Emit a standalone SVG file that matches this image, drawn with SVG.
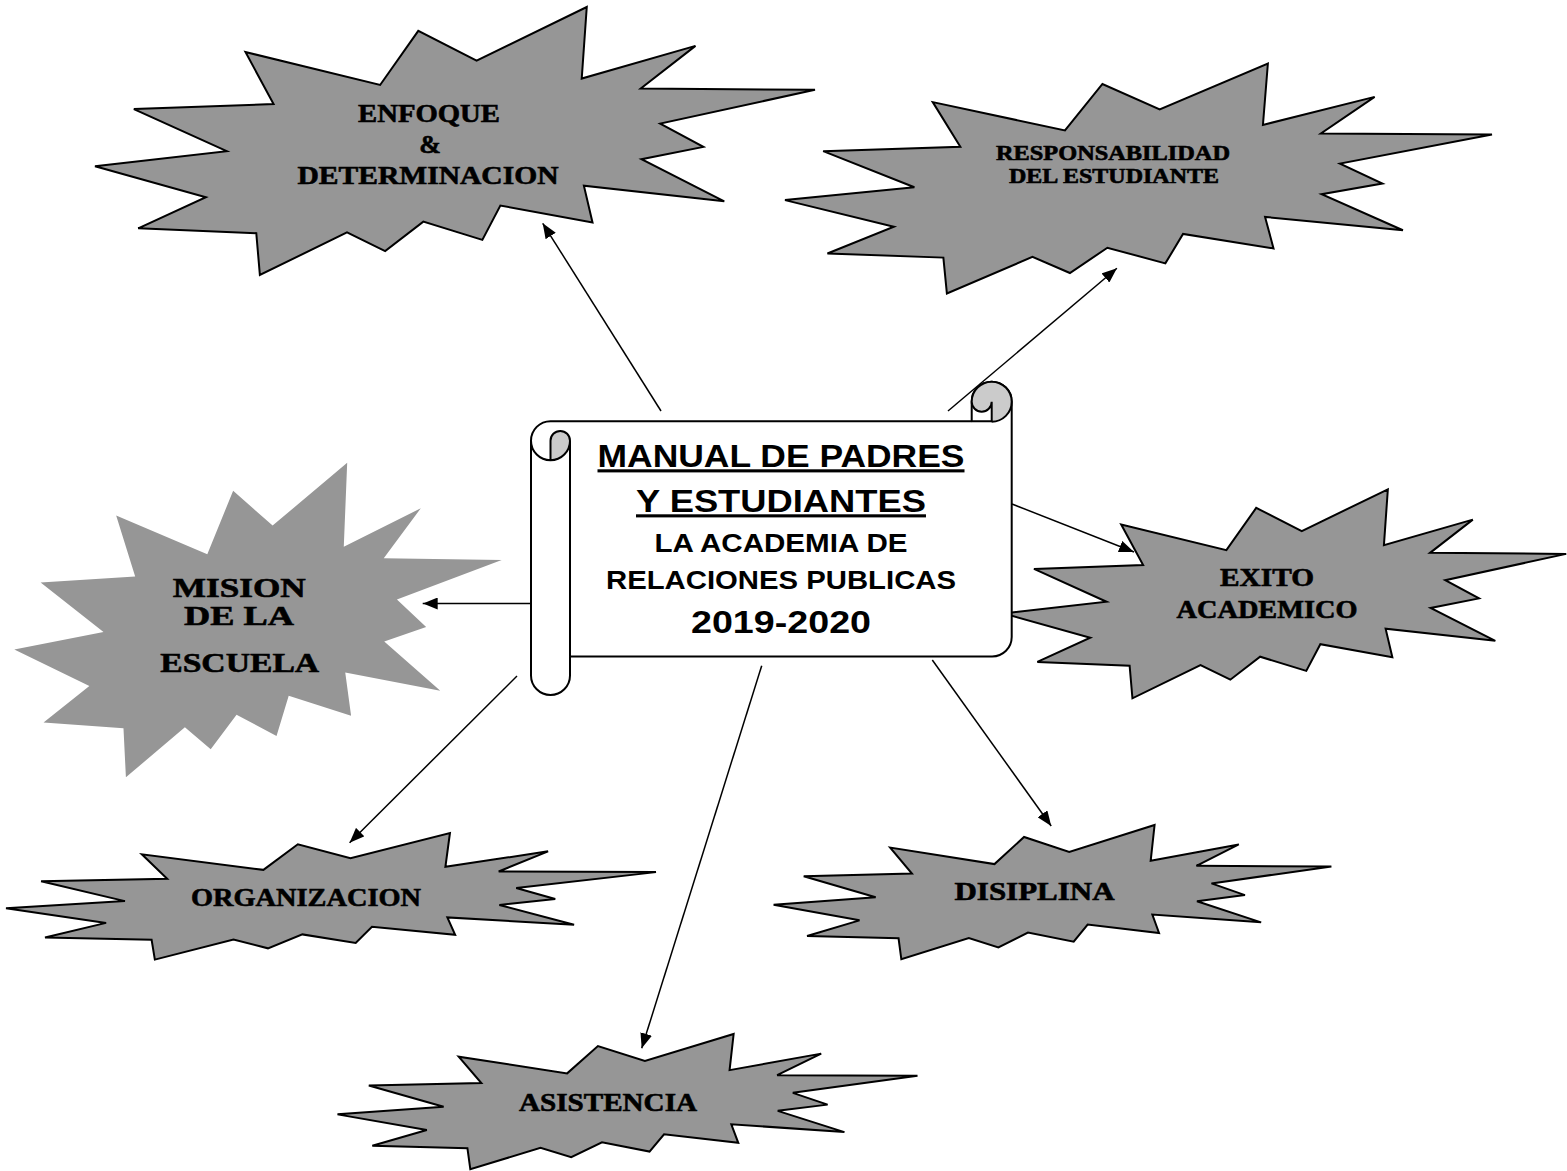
<svg xmlns="http://www.w3.org/2000/svg" xmlns:xlink="http://www.w3.org/1999/xlink" width="1567" height="1171" viewBox="0 0 1567 1171">
<style>
.burst{fill:#969696;stroke:#000;stroke-width:2;stroke-linejoin:miter}
.burst-ns{fill:#969696;stroke:none}
.bt{font-family:"Liberation Serif","Times New Roman",serif;font-weight:bold;fill:#000;stroke:#000;stroke-width:0.6;text-anchor:middle}
.st{font-family:"Liberation Sans",Arial,sans-serif;font-weight:bold;fill:#000;text-anchor:middle}
.scroll{fill:#fff;stroke:#000;stroke-width:2;stroke-linejoin:round}
.curl{fill:#cbcbcb;stroke:none}
.sl{fill:none;stroke:#000;stroke-width:2}
.conn{fill:none;stroke:#000;stroke-width:1.5;marker-end:url(#ah)}
</style>
<defs>
<path id="burst" vector-effect="non-scaling-stroke" d="M683,0 L676,267 L834,145 L758,304 L1000,309 L785,435 L845,522 L759,568 L874,725 L679,667 L691,804 L563,741 L538,869 L456,801 L403,911 L350,841 L229,1000 L224,844 L60,826 L154,710 L0,594 L183,538 L54,381 L248,362 L209,168 L396,291 L449,89 L530,200 Z"/>
<marker id="ah" markerUnits="userSpaceOnUse" markerWidth="15" markerHeight="12" viewBox="0 0 15 12" refX="15" refY="6" orient="auto">
<path d="M0,0 L15,6 L0,12 Z" fill="#000"/>
</marker>
</defs>

<g id="node-enfoque">
<use href="#burst" class="burst" transform="translate(95,7) scale(0.720,0.268)"/>
<text class="bt" x="429" y="122" font-size="26" textLength="142" lengthAdjust="spacingAndGlyphs">ENFOQUE</text>
<text class="bt" x="430" y="153" font-size="26">&amp;</text>
<text class="bt" x="428" y="184" font-size="26" textLength="261" lengthAdjust="spacingAndGlyphs">DETERMINACION</text>
</g>

<g id="node-responsabilidad">
<use href="#burst" class="burst" transform="translate(785,63.5) scale(0.707,0.230)"/>
<text class="bt" x="1113" y="160" font-size="20" textLength="234" lengthAdjust="spacingAndGlyphs">RESPONSABILIDAD</text>
<text class="bt" x="1114" y="183" font-size="20" textLength="210" lengthAdjust="spacingAndGlyphs">DEL ESTUDIANTE</text>
</g>

<g id="node-mision">
<use href="#burst" class="burst-ns" transform="translate(14.3,462.7) scale(0.4874,0.3146)"/>
<text class="bt" x="239.3" y="597" font-size="28" textLength="133" lengthAdjust="spacingAndGlyphs">MISION</text>
<text class="bt" x="239" y="625" font-size="28" textLength="110" lengthAdjust="spacingAndGlyphs">DE LA</text>
<text class="bt" x="239.7" y="672" font-size="28" textLength="159" lengthAdjust="spacingAndGlyphs">ESCUELA</text>
</g>

<g id="node-exito">
<use href="#burst" class="burst" transform="translate(1003.6,489.3) scale(0.5626,0.209)"/>
<text class="bt" x="1267" y="586" font-size="25" textLength="94" lengthAdjust="spacingAndGlyphs">EXITO</text>
<text class="bt" x="1267" y="617.7" font-size="25" textLength="181" lengthAdjust="spacingAndGlyphs">ACADEMICO</text>
</g>

<g id="node-organizacion">
<use href="#burst" class="burst" transform="translate(6,833) scale(0.650,0.1266)"/>
<text class="bt" x="306" y="906" font-size="26" textLength="230" lengthAdjust="spacingAndGlyphs">ORGANIZACION</text>
</g>

<g id="node-disiplina">
<use href="#burst" class="burst" transform="translate(773.6,825) scale(0.5578,0.1343)"/>
<text class="bt" x="1034.5" y="900" font-size="26" textLength="160" lengthAdjust="spacingAndGlyphs">DISIPLINA</text>
</g>

<g id="node-asistencia">
<use href="#burst" class="burst" transform="translate(337.5,1034) scale(0.580,0.1353)"/>
<text class="bt" x="608" y="1110.7" font-size="26" textLength="178" lengthAdjust="spacingAndGlyphs">ASISTENCIA</text>
</g>

<g id="node-manual">
<path class="scroll" d="M550.5,421.2 H971.7 V401.7 A20,20 0 0 1 1011.7,401.7 V637 A19.5,19.5 0 0 1 992.2,656.5 H570 V675.5 A19.5,19.5 0 0 1 531,675.5 V440.7 A19.5,19.5 0 0 1 550.5,421.2 Z"/>
<path class="curl" d="M971.7,401.7 A20,20 0 0 1 1011.7,401.7 A20,20 0 0 1 991.7,421.7 V401.7 A10,10 0 0 1 971.7,401.7 Z"/>
<path class="sl" d="M1011.7,401.7 A20,20 0 0 1 991.7,421.7 M971.7,421.2 H991.7 V401.7 A10,10 0 0 1 971.7,401.7 M971.7,401.7 A20,20 0 0 1 1011.7,401.7"/>
<path class="curl" d="M550.5,440.7 A9.75,9.75 0 0 1 570,440.7 A19.5,19.5 0 0 1 550.5,460.2 Z"/>
<path class="sl" d="M550.5,440.7 A9.75,9.75 0 0 1 570,440.7 V656.5 M531,440.7 A19.5,19.5 0 0 0 570,440.7 M550.5,440.7 V460.2"/>
<text class="st" x="781" y="467.3" font-size="31" textLength="367" lengthAdjust="spacingAndGlyphs" text-decoration="underline">MANUAL DE PADRES</text>
<text class="st" x="781" y="512.3" font-size="31" textLength="290" lengthAdjust="spacingAndGlyphs" text-decoration="underline">Y ESTUDIANTES</text>
<text class="st" x="781" y="551.7" font-size="25" textLength="253" lengthAdjust="spacingAndGlyphs">LA ACADEMIA DE</text>
<text class="st" x="781" y="589.3" font-size="25" textLength="350" lengthAdjust="spacingAndGlyphs">RELACIONES PUBLICAS</text>
<text class="st" x="781" y="633.3" font-size="32" textLength="180" lengthAdjust="spacingAndGlyphs">2019-2020</text>
</g>

<g id="connectors">
<line class="conn" x1="661" y1="411" x2="542.7" y2="223.3"/>
<line class="conn" x1="948" y1="411" x2="1116.9" y2="268.3"/>
<line class="conn" x1="1012" y1="504" x2="1134" y2="552"/>
<line class="conn" x1="531" y1="603.5" x2="422.7" y2="603.5"/>
<line class="conn" x1="517" y1="676" x2="349.6" y2="842.7"/>
<line class="conn" x1="761.7" y1="665.7" x2="641.7" y2="1048.3"/>
<line class="conn" x1="932.3" y1="660" x2="1051.2" y2="826"/>
</g>
</svg>
